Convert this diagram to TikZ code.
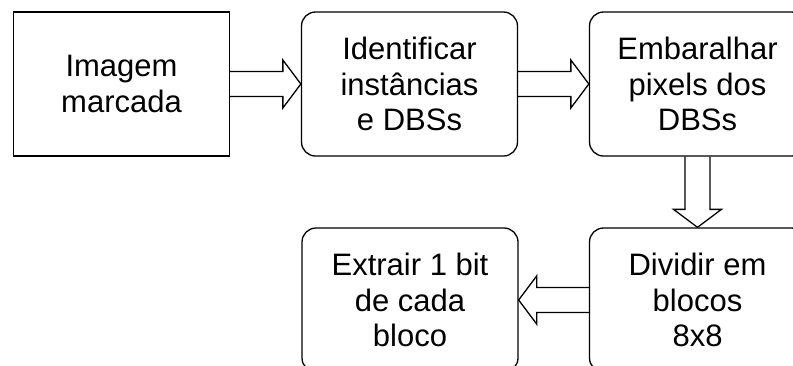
\documentclass[tikz,border=0pt]{standalone}
\usepackage{fontspec}
\setmainfont{Liberation Sans}
\usetikzlibrary{calc}
\tikzset{
  box/.style={draw=black, line width=1.3pt, minimum width=216pt, minimum height=144pt,
    align=center, inner sep=0pt, font=\fontsize{31}{35.5}\selectfont},
  rbox/.style={box, rounded corners=14pt},
  arr/.style={draw=black, line width=1.3pt, line join=miter},
}
\newcommand{\blockarr}[2]{%
  \path (#1) coordinate (ba-s) (#2) coordinate (ba-e);
  \coordinate (ba-h) at ($(ba-e)!18pt!(ba-s)$);
  \draw[arr] ($(ba-s)!12.5pt!90:(ba-e)$) -- ($(ba-h)!12.5pt!-90:(ba-s)$)
    -- ($(ba-h)!24pt!-90:(ba-s)$) -- (ba-e) -- ($(ba-h)!24pt!90:(ba-s)$)
    -- ($(ba-h)!12.5pt!90:(ba-s)$) -- ($(ba-s)!12.5pt!-90:(ba-e)$);
}
\begin{document}
\begin{tikzpicture}[x=1pt,y=-1pt]
  \useasboundingbox (0,0) rectangle (793,365);
  \clip (0,0) rectangle (793,365);
  \node[box]  (b1) at (121.5,84)  {Imagem\\marcada};
  \node[rbox] (b2) at (409.5,84)  {Identificar\\instâncias\\e DBSs};
  \node[rbox] (b3) at (697.5,84)  {Embaralhar\\pixels dos\\DBSs};
  \node[rbox] (b4) at (697.5,300) {Dividir em\\blocos\\8x8};
  \node[rbox] (b5) at (410,300)   {Extrair 1 bit\\de cada\\bloco};
  \blockarr{b1.east}{b2.west}
  \blockarr{b2.east}{b3.west}
  \blockarr{b3.south}{b4.north}
  \blockarr{b4.west}{b5.east}
\end{tikzpicture}
\end{document}
